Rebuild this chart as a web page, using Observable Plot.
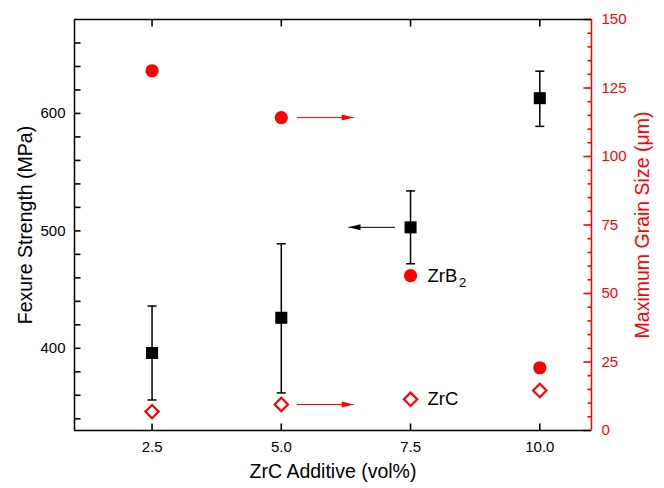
<!DOCTYPE html>
<html>
<head>
<meta charset="utf-8">
<script src="https://cdn.jsdelivr.net/npm/d3@7"></script>
<script src="https://cdn.jsdelivr.net/npm/@observablehq/plot@0.6"></script>
<style>
  html, body { margin: 0; padding: 0; background: #fff; }
</style>
</head>
<body>
<div id="chart"></div>
<script>
// ---- data ----
const additive = [2.5, 5.0, 7.5, 10.0];            // ZrC additive (vol%)
const strength = [396, 426, 503, 613];             // flexural strength (MPa)
const strengthLow = [356, 362, 472, 589];          // error bar low
const strengthHigh = [436, 489, 534, 636];         // error bar high
const grainZrB2 = [131.3, 114.2, 56.5, 22.9];      // max grain size ZrB2 (µm)
const grainZrC = [6.9, 9.5, 11.4, 14.6];           // max grain size ZrC (µm)

// tick values
const xTicks = [2.5, 5.0, 7.5, 10.0];
const leftTicks = d3.range(340, 661, 20);
const leftLabels = [400, 500, 600];
const rightMajor = d3.range(0, 151, 25);
const rightMinor = d3.range(0, 151, 5).filter(v => v % 25 !== 0);

// annotation arrows (x from -> to, in ZrC vol%)
const arrowFrom = [5.3, 7.2, 5.3];
const arrowTo = [6.4, 6.3, 6.4];

// ---- layout / scales ----
const W = 664, H = 488, ML = 74, MR = 73, MT = 19, MB = 58;
const PW = W - ML - MR, PH = H - MT - MB;
const xDomain = [1, 11];
const yDomain = [330, 680];          // MPa (left)
const gDomain = [0, 150];            // µm (right)
const g2y = g => yDomain[0] + (g - gDomain[0]) * (yDomain[1] - yDomain[0]) / (gDomain[1] - gDomain[0]);
const y2g = y => gDomain[0] + (y - yDomain[0]) * (gDomain[1] - gDomain[0]) / (yDomain[1] - yDomain[0]);
const pxX = (xDomain[1] - xDomain[0]) / PW;   // data units per pixel
const pxY = (yDomain[1] - yDomain[0]) / PH;

const RED = "#f00";
const rows = additive.map((x, i) => ({
  x, s: strength[i], lo: strengthLow[i], hi: strengthHigh[i],
  b: g2y(grainZrB2[i]), c: g2y(grainZrC[i])
}));
const arrows = [
  {x1: arrowFrom[0], x2: arrowTo[0], y: g2y(grainZrB2[1]), color: RED, dir: 1},
  {x1: arrowFrom[1], x2: arrowTo[1], y: strength[2], color: "black", dir: -1},
  {x1: arrowFrom[2], x2: arrowTo[2], y: g2y(grainZrC[1]), color: RED, dir: 1}
];
const headRight = {draw(ctx) { ctx.moveTo(0, 0); ctx.lineTo(-12, -3); ctx.lineTo(-12, 3); ctx.closePath(); }};
const headLeft = {draw(ctx) { ctx.moveTo(0, 0); ctx.lineTo(12, -3); ctx.lineTo(12, 3); ctx.closePath(); }};

// inward tick helpers (length in px)
const yTickMarks = (vals, side, len, color) => Plot.link(vals, {
  x1: () => side === "left" ? xDomain[0] : xDomain[1],
  x2: () => side === "left" ? xDomain[0] + len * pxX : xDomain[1] - len * pxX,
  y1: d => d, y2: d => d, stroke: color, strokeWidth: 1.6
});
const xTickMarks = (vals, side, len, color) => Plot.link(vals, {
  y1: () => side === "bottom" ? yDomain[0] : yDomain[1],
  y2: () => side === "bottom" ? yDomain[0] + len * pxY : yDomain[1] - len * pxY,
  x1: d => d, x2: d => d, stroke: color, strokeWidth: 1.6
});

const TF = 19.5;   // title font size
const chart = Plot.plot({
  width: W, height: H,
  marginLeft: ML, marginRight: MR, marginTop: MT, marginBottom: MB,
  style: {fontFamily: "'Liberation Sans', Arial, sans-serif", fontSize: "15px", background: "white", color: "black"},
  x: {domain: xDomain},
  y: {domain: yDomain},
  marks: [
    // inward ticks
    xTickMarks(xTicks, "bottom", 7, "black"),
    xTickMarks(xTicks, "top", 7, "black"),
    yTickMarks(leftTicks, "left", 6, "black"),
    yTickMarks(rightMajor.map(g2y), "right", 8, RED),
    yTickMarks(rightMinor.map(g2y), "right", 4, RED),
    // tick labels
    Plot.axisX(xTicks, {anchor: "bottom", tickSize: 0, tickPadding: 11, fontSize: 15,
      tickFormat: d3.format(".1f"), label: null}),
    Plot.axisY(leftLabels, {anchor: "left", tickSize: 0, tickPadding: 9, fontSize: 15,
      tickFormat: d => String(d), label: null}),
    Plot.axisY(rightMajor.map(g2y), {anchor: "right", tickSize: 0, tickPadding: 10, fontSize: 15,
      color: RED, tickFormat: v => String(Math.round(y2g(v))), label: null}),
    // frame
    Plot.ruleY([yDomain[0]], {stroke: "black", strokeWidth: 1.5}),
    Plot.ruleY([yDomain[1]], {stroke: "black", strokeWidth: 1.5}),
    Plot.ruleX([xDomain[0]], {stroke: "black", strokeWidth: 1.5}),
    Plot.ruleX([xDomain[1]], {stroke: RED, strokeWidth: 1.5}),
    // axis titles
    Plot.text(["Fexure Strength (MPa)"], {text: d => d, frameAnchor: "left", textAnchor: "middle", dx: -49, rotate: -90, fontSize: TF, fill: "black"}),
    Plot.text(["Maximum Grain Size (\u03bcm)"], {text: d => d, frameAnchor: "right", textAnchor: "middle", dx: 51, rotate: -90, fontSize: TF, fill: RED}),
    Plot.text(["ZrC Additive (vol%)"], {text: d => d, frameAnchor: "bottom", textAnchor: "middle", dy: 47, fontSize: TF, fill: "black"}),
    // error bars
    Plot.ruleX(rows, {x: "x", y1: "lo", y2: "hi", stroke: "black", strokeWidth: 1.5}),
    Plot.link(rows, {x1: d => d.x - 4.5 * pxX, x2: d => d.x + 4.5 * pxX, y1: "hi", y2: "hi", stroke: "black", strokeWidth: 1.5}),
    Plot.link(rows, {x1: d => d.x - 4.5 * pxX, x2: d => d.x + 4.5 * pxX, y1: "lo", y2: "lo", stroke: "black", strokeWidth: 1.5}),
    // points
    Plot.dot(rows, {x: "x", y: "s", symbol: "square", r: 6.8, fill: "black", stroke: "none"}),
    Plot.dot(rows, {x: "x", y: "b", symbol: "circle", r: 6.6, fill: RED, stroke: "none"}),
    Plot.dot(rows, {x: "x", y: "c", symbol: "diamond2", r: 6, fill: "white", stroke: RED, strokeWidth: 2.2}),
    // arrows
    Plot.link(arrows, {x1: "x1", x2: "x2", y1: "y", y2: "y", stroke: "color", strokeWidth: 1}),
    Plot.dot(arrows.filter(a => a.dir > 0), {x: "x2", y: "y", symbol: headRight, fill: "color", stroke: "none"}),
    Plot.dot(arrows.filter(a => a.dir < 0), {x: "x2", y: "y", symbol: headLeft, fill: "color", stroke: "none"}),
    // series labels
    Plot.text([0], {x: () => additive[2], y: () => g2y(grainZrB2[2]), text: () => "ZrB", dx: 17, textAnchor: "start", fontSize: 18.5, fill: "black"}),
    Plot.text([0], {x: () => additive[2], y: () => g2y(grainZrB2[2]), text: () => "2", dx: 48.5, dy: 7, textAnchor: "start", fontSize: 13, fill: "black"}),
    Plot.text([0], {x: () => additive[2], y: () => g2y(grainZrC[2]), text: () => "ZrC", dx: 17, textAnchor: "start", fontSize: 18.5, fill: "black"})
  ]
});
document.getElementById("chart").appendChild(chart);
</script>
</body>
</html>
